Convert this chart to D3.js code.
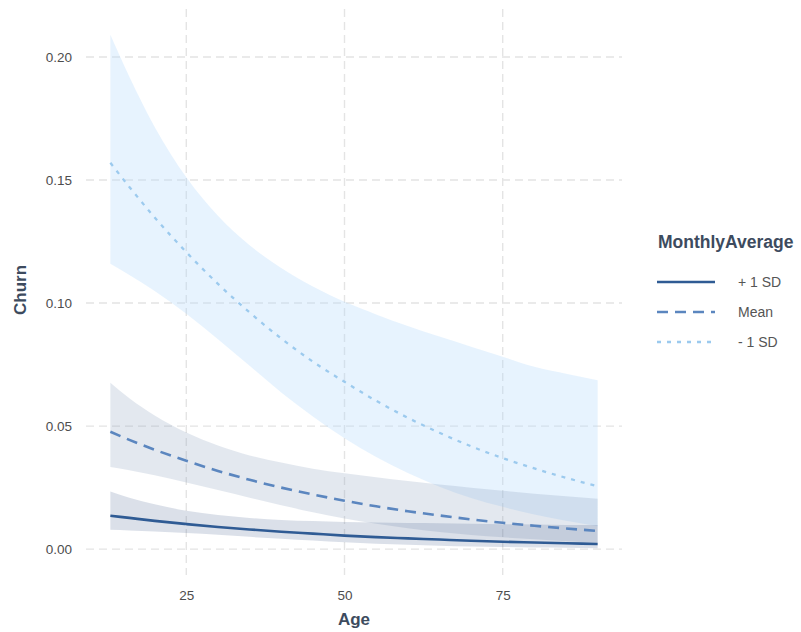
<!DOCTYPE html>
<html>
<head>
<meta charset="utf-8">
<script src="https://cdn.jsdelivr.net/npm/d3@7"></script>
<style>
  body { margin: 0; background: #fff; }
  svg { display: block; font-family: "Liberation Sans", Arial, sans-serif; }
</style>
</head>
<body>
<svg id="chart" width="801" height="632"></svg>
<script>
// Predicted churn by age at three levels of MonthlyAverage, with confidence bands
const ages = [13, 16, 20, 25, 30, 35, 40, 45, 50, 55, 60, 65, 70, 75, 80, 85, 90];

const plusFit   = [0.0136, 0.0127, 0.0115, 0.0102, 0.0090, 0.0080, 0.0071, 0.0063, 0.0055, 0.0049, 0.0044, 0.0039, 0.0034, 0.0030, 0.0027, 0.0024, 0.0021];
const plusLow   = [0.0079, 0.0076, 0.0072, 0.0066, 0.0059, 0.0050, 0.0042, 0.0035, 0.0028, 0.0022, 0.0018, 0.0014, 0.0011, 0.0009, 0.0007, 0.0006, 0.0004];
const plusHigh  = [0.0234, 0.0209, 0.0182, 0.0156, 0.0139, 0.0127, 0.0119, 0.0114, 0.0110, 0.0108, 0.0106, 0.0105, 0.0103, 0.0101, 0.0100, 0.0098, 0.0098];

const meanFit   = [0.0477, 0.0444, 0.0404, 0.0359, 0.0318, 0.0282, 0.0250, 0.0222, 0.0197, 0.0174, 0.0154, 0.0137, 0.0121, 0.0107, 0.0095, 0.0084, 0.0074];
const meanLow   = [0.0334, 0.0321, 0.0300, 0.0271, 0.0240, 0.0209, 0.0178, 0.0150, 0.0125, 0.0103, 0.0085, 0.0070, 0.0058, 0.0048, 0.0040, 0.0032, 0.0027];
const meanHigh  = [0.0676, 0.0613, 0.0543, 0.0474, 0.0421, 0.0381, 0.0352, 0.0327, 0.0308, 0.0292, 0.0277, 0.0263, 0.0250, 0.0237, 0.0225, 0.0215, 0.0205];

const minusFit  = [0.1570, 0.1472, 0.1348, 0.1207, 0.1078, 0.0962, 0.0856, 0.0762, 0.0680, 0.0603, 0.0534, 0.0473, 0.0418, 0.0370, 0.0328, 0.0290, 0.0256];
const minusLow  = [0.1160, 0.1114, 0.1049, 0.0957, 0.0853, 0.0745, 0.0637, 0.0539, 0.0451, 0.0374, 0.0309, 0.0254, 0.0208, 0.0172, 0.0141, 0.0115, 0.0093];
const minusHigh = [0.2090, 0.1920, 0.1716, 0.1511, 0.1355, 0.1235, 0.1143, 0.1067, 0.1005, 0.0954, 0.0907, 0.0864, 0.0823, 0.0782, 0.0741, 0.0713, 0.0686];

const groupLabels = ["+ 1 SD", "Mean", "- 1 SD"];
const legendTitle = "MonthlyAverage";
const xTicks = [25, 50, 75];
const yTicks = [0.00, 0.05, 0.10, 0.15, 0.20];

const svg = d3.select("#chart");
const panel = { left: 86, right: 622, top: 9, bottom: 575 };

const x = d3.scaleLinear().domain([9.15, 93.85]).range([panel.left, panel.right]);
const y = d3.scaleLinear().domain([-0.0105, 0.2195]).range([panel.bottom, panel.top]);

// dashed major grid
const grid = svg.append("g");
grid.selectAll("line.gx").data(xTicks).join("line")
  .attr("x1", d => x(d)).attr("x2", d => x(d))
  .attr("y1", panel.top).attr("y2", panel.bottom)
  .attr("stroke", "#e4e4e4").attr("stroke-width", 1.4).attr("stroke-dasharray", "8,5");
grid.selectAll("line.gy").data(yTicks).join("line")
  .attr("x1", panel.left).attr("x2", panel.right)
  .attr("y1", d => y(d)).attr("y2", d => y(d))
  .attr("stroke", "#e4e4e4").attr("stroke-width", 1.4).attr("stroke-dasharray", "8,5");

const groups = [
  { label: groupLabels[0], fit: plusFit, lo: plusLow, hi: plusHigh,
    fill: "#4a6490", fillOpacity: 0.2, stroke: "#2f5b94", width: 2.6, dash: null },
  { label: groupLabels[1], fit: meanFit, lo: meanLow, hi: meanHigh,
    fill: "#7f95b8", fillOpacity: 0.22, stroke: "#5b86bf", width: 2.6, dash: "11,7" },
  { label: groupLabels[2], fit: minusFit, lo: minusLow, hi: minusHigh,
    fill: "#b3dafc", fillOpacity: 0.32, stroke: "#9ccaee", width: 2.3, dash: "4,6" }
];

const area = d3.area()
  .x(d => x(d.age)).y0(d => y(d.lo)).y1(d => y(d.hi))
  .curve(d3.curveMonotoneX);
const line = d3.line()
  .x(d => x(d.age)).y(d => y(d.v))
  .curve(d3.curveMonotoneX);

// confidence bands, widest first
[...groups].reverse().forEach(g => {
  const pts = ages.map((a, i) => ({ age: a, lo: g.lo[i], hi: g.hi[i] }));
  svg.append("path").attr("d", area(pts))
    .attr("fill", g.fill).attr("fill-opacity", g.fillOpacity);
});

// fitted lines
[...groups].reverse().forEach(g => {
  const pts = ages.map((a, i) => ({ age: a, v: g.fit[i] }));
  svg.append("path").attr("d", line(pts))
    .attr("fill", "none").attr("stroke", g.stroke)
    .attr("stroke-width", g.width)
    .attr("stroke-dasharray", g.dash);
});

// axes
const xAxis = d3.axisBottom(x).tickValues(xTicks).tickSize(0).tickPadding(0);
const gx = svg.append("g").attr("transform", `translate(0,${panel.bottom + 21})`).call(xAxis);
gx.select(".domain").remove();
gx.selectAll("text").attr("fill", "#4d4d4d").attr("font-size", 13.5)
  .attr("font-family", "Liberation Sans, Arial, sans-serif").attr("dy", "0.3em");

const yAxis = d3.axisLeft(y).tickValues(yTicks).tickFormat(d3.format(".2f")).tickSize(0).tickPadding(0);
const gy = svg.append("g").attr("transform", `translate(${panel.left - 14},0)`).call(yAxis);
gy.select(".domain").remove();
gy.selectAll("text").attr("fill", "#4d4d4d").attr("font-size", 13.5)
  .attr("font-family", "Liberation Sans, Arial, sans-serif");

// axis titles
svg.append("text").attr("x", 354).attr("y", 625)
  .attr("text-anchor", "middle").attr("font-size", 17).attr("font-weight", "bold")
  .attr("fill", "#3d4b5e").text("Age");
svg.append("text").attr("transform", "translate(25.5,290) rotate(-90)")
  .attr("text-anchor", "middle").attr("font-size", 17).attr("font-weight", "bold")
  .attr("fill", "#3d4b5e").text("Churn");

// legend
const legend = svg.append("g").attr("transform", "translate(658,0)");
legend.append("text").attr("x", 0).attr("y", 248)
  .attr("font-size", 17.5).attr("font-weight", "bold").attr("fill", "#3d4b5e")
  .text(legendTitle);
groups.forEach((g, i) => {
  const yy = 282 + i * 30;
  legend.append("line").attr("x1", -1).attr("x2", 57).attr("y1", yy).attr("y2", yy)
    .attr("stroke", g.stroke).attr("stroke-width", g.width)
    .attr("stroke-dasharray", g.dash);
  legend.append("text").attr("x", 80).attr("y", yy).attr("dy", "0.35em")
    .attr("font-size", 14).attr("fill", "#555").text(g.label);
});
</script>
</body>
</html>
